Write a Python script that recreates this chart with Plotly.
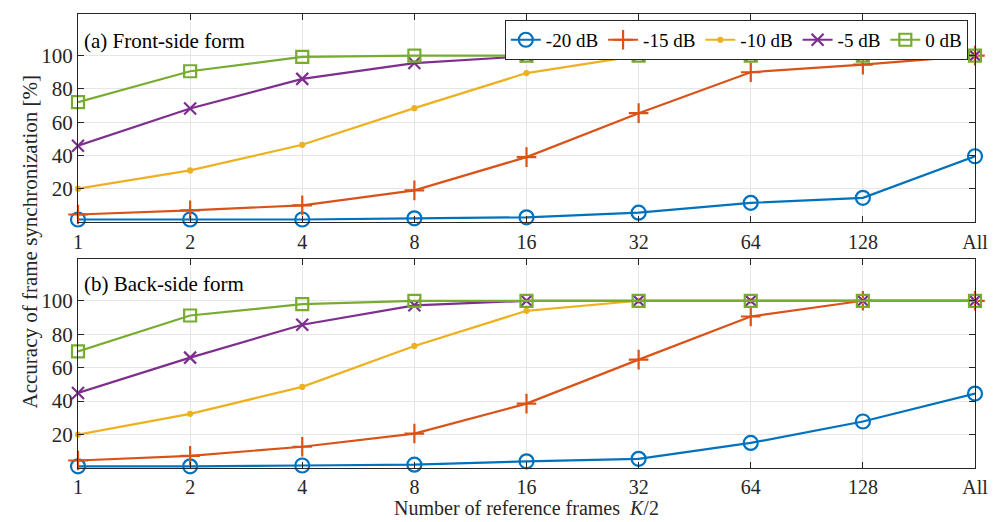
import plotly.graph_objects as go

categories = ["1", "2", "4", "8", "16", "32", "64", "128", "All"]
series_names = ["-20 dB", "-15 dB", "-10 dB", "-5 dB", "0 dB"]

front_m20 = [1.5, 1.5, 1.5, 2.2, 2.8, 5.6, 11.5, 14.5, 39.5]
front_m15 = [4.5, 7.0, 10.0, 19.0, 39.0, 65.4, 90.0, 94.6, 100]
front_m10 = [20.0, 31.0, 46.4, 68.4, 89.5, 100, 100, 100, 100]
front_m5 = [45.8, 68.2, 86.0, 95.5, 99.6, 100, 100, 100, 100]
front_0 = [72.0, 90.6, 99.2, 100, 100, 100, 100, 100, 100]

back_m20 = [1.0, 1.0, 1.5, 2.0, 4.0, 5.5, 15.0, 27.8, 44.5]
back_m15 = [4.5, 7.3, 12.7, 20.6, 38.5, 64.8, 90.6, 100, 100]
back_m10 = [20.0, 32.4, 48.5, 73.0, 94.0, 100, 100, 100, 100]
back_m5 = [44.9, 66.0, 85.7, 97.3, 100, 100, 100, 100, 100]
back_0 = [69.7, 91.2, 98.0, 100, 100, 100, 100, 100, 100]

y_ticks = [20, 40, 60, 80, 100]

colors = ["#0072BD", "#D95319", "#EDB120", "#7E2F8E", "#77AC30"]
symbols = ["circle-open", "cross-thin-open", "circle", "x-thin-open", "square-open"]
msizes = [14, 14, 4, 12, 12]

FONT = "Liberation Serif"
AX = "#262626"
FS = 21

fig = go.Figure()
front = [front_m20, front_m15, front_m10, front_m5, front_0]
back = [back_m20, back_m15, back_m10, back_m5, back_0]
for i, name in enumerate(series_names):
    for data, xa, ya, show in [(front, "x", "y", True), (back, "x2", "y2", False)]:
        fig.add_trace(go.Scatter(
            x=categories, y=data[i], name=name, mode="lines+markers",
            xaxis=xa, yaxis=ya, showlegend=show, cliponaxis=False,
            line=dict(color=colors[i], width=2.2),
            marker=dict(symbol=symbols[i], size=msizes[i], color=colors[i],
                        line=dict(color=colors[i], width=2.2)),
        ))

axis_common = dict(
    showline=True, linecolor=AX, linewidth=1, mirror="ticks",
    ticks="inside", ticklen=6, tickcolor=AX,
    showgrid=True, gridcolor="#e6e6e6", gridwidth=1, automargin=False,
    zeroline=False,
)
yfont = dict(family=FONT, size=FS, color=AX)
xfont = dict(family=FONT, size=20, color=AX)

fig.update_layout(
    width=997, height=522,
    margin=dict(l=78, r=22, t=14, b=54),
    paper_bgcolor="white", plot_bgcolor="white",
    font=dict(family=FONT, size=FS, color=AX),
    xaxis=dict(domain=[0, 1], anchor="y", type="category", range=[0, 8],
               categoryorder="array", categoryarray=categories,
               ticklabelstandoff=2, tickfont=xfont, **axis_common),
    xaxis2=dict(domain=[0, 1], anchor="y2", type="category", range=[0, 8],
                categoryorder="array", categoryarray=categories, ticklabelstandoff=1,
                tickfont=xfont, **axis_common),
    yaxis=dict(domain=[0.5419, 1], anchor="x", range=[0, 125], tickvals=y_ticks,
               tickfont=yfont, **axis_common),
    yaxis2=dict(domain=[0, 0.4604], anchor="x2", range=[0, 125], tickvals=y_ticks,
                tickfont=yfont, **axis_common),
    legend=dict(orientation="h", x=0.992, xanchor="right", y=0.987, yanchor="top",
                yref="paper", bgcolor="white", bordercolor=AX, borderwidth=1,
                font=dict(family=FONT, size=19, color="black"),
                itemwidth=30, tracegroupgap=0),
    annotations=[
        dict(text="(a) Front-side form", xref="paper", yref="paper", x=0.004, y=0.94,
             xanchor="left", yanchor="middle", showarrow=False,
             font=dict(family=FONT, size=FS, color="black")),
        dict(text="(b) Back-side form", xref="paper", yref="paper", x=0.004, y=0.405,
             xanchor="left", yanchor="middle", showarrow=False,
             font=dict(family=FONT, size=FS, color="black")),
        dict(text="Accuracy of frame synchronization [%]", xref="paper", yref="paper",
             x=-0.053, y=0.5, xanchor="center", yanchor="middle", textangle=-90,
             showarrow=False, font=dict(family=FONT, size=FS, color=AX)),
        dict(text="Number of reference frames  <i>K</i>/2", xref="paper", yref="paper",
             x=0.5, y=-0.1167, xanchor="center", yanchor="bottom",
             showarrow=False, font=dict(family=FONT, size=20, color=AX)),
    ],
)

fig.write_html("out.html")
